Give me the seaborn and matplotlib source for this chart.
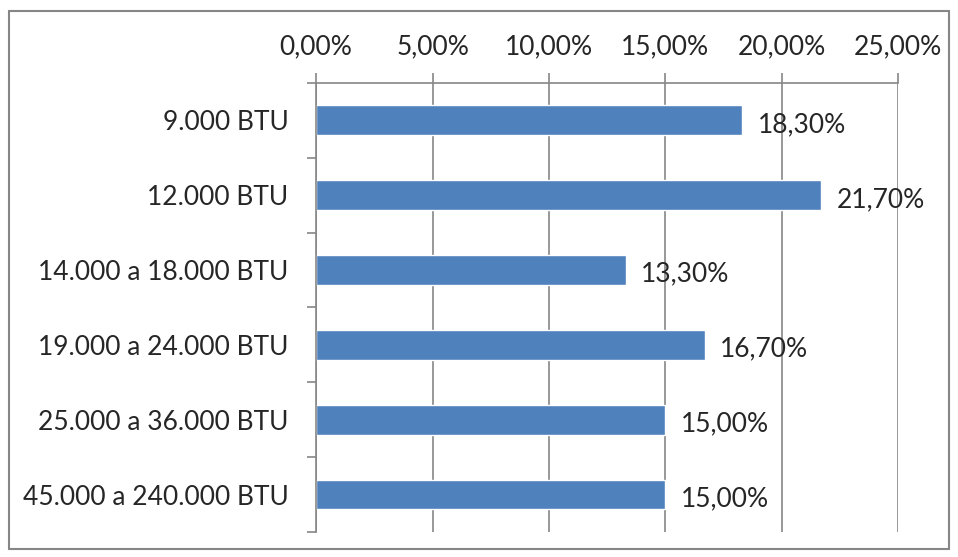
import pandas as pd
import seaborn as sns
import matplotlib.pyplot as plt
from matplotlib.patches import Rectangle
from matplotlib.ticker import MultipleLocator, FuncFormatter, FixedLocator

# dados do grafico
categorias = ["9.000 BTU", "12.000 BTU", "14.000 a 18.000 BTU", "19.000 a 24.000 BTU",
              "25.000 a 36.000 BTU", "45.000 a 240.000 BTU"]
percentuais = [18.3, 21.7, 13.3, 16.7, 15.0, 15.0]

df = pd.DataFrame({"Potencia": categorias, "Percentual": percentuais})

sns.set_style("white")
plt.rcParams['font.family'] = ['Lato', 'DejaVu Sans']
plt.rcParams['font.size'] = 19

fig = plt.figure(figsize=(9.58, 5.57), dpi=100)
ax = fig.add_axes([0.33, 0.045, 0.6075, 0.806])

sns.barplot(data=df, x="Percentual", y="Potencia", orient="h", color="#4F81BD",
            width=0.4, saturation=1, ax=ax)

cinza = "#868686"
ax.set_xlim(0, 25)
ax.set_ylim(5.5, -0.5)
ax.xaxis.set_major_locator(MultipleLocator(5))
ax.xaxis.set_major_formatter(FuncFormatter(lambda v, p: f"{v:.2f}%".replace(".", ",")))
ax.xaxis.tick_top()
ax.grid(axis="x", color=cinza, linewidth=1.2)
ax.set_axisbelow(True)
ax.tick_params(axis="x", which="major", top=True, length=7, width=1.2, color=cinza,
               pad=10, labelsize=19)

# marcas entre categorias
ax.yaxis.set_minor_locator(FixedLocator([i - 0.5 for i in range(len(categorias) + 1)]))
ax.tick_params(axis="y", which="minor", left=True, length=6.5, width=1.2, color=cinza)
ax.tick_params(axis="y", which="major", left=False, length=0, pad=20, labelsize=19)

for lado in ["right", "bottom"]:
    ax.spines[lado].set_visible(False)
for lado in ["left", "top"]:
    ax.spines[lado].set_color(cinza)
    ax.spines[lado].set_linewidth(1.2)

ax.set_xlabel("")
ax.set_ylabel("")

# rotulos de dados
for i, v in enumerate(percentuais):
    ax.annotate(f"{v:.2f}%".replace(".", ","), xy=(v, i), xytext=(11, -3),
                textcoords="offset points", va="center", ha="left", fontsize=19)

# borda da area do grafico
fig.patches.append(Rectangle((9 / 958, 1 - 549 / 557), 940 / 958, 538 / 557,
                             transform=fig.transFigure, fill=False,
                             edgecolor=cinza, linewidth=1.5))

fig.savefig("out.png", dpi=100)
